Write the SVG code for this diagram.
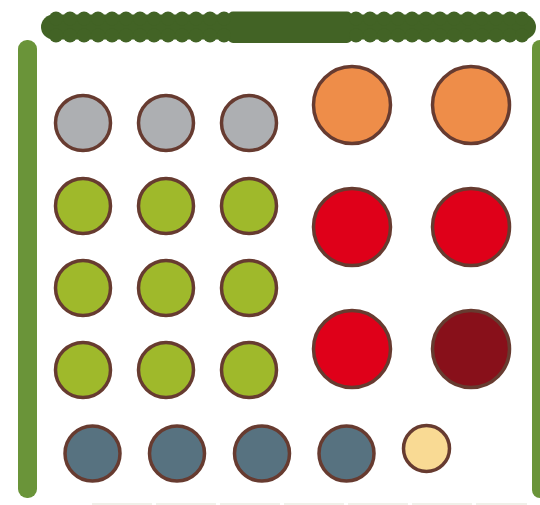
<svg xmlns="http://www.w3.org/2000/svg" width="540" height="505" viewBox="0 0 540 505">
<style>
.n{stroke:#673b30;stroke-width:3.5}
.g{fill:#adafb2}.l{fill:#9fb92b}.b{fill:#577280}.y{fill:#f9da94}.o{fill:#ee8d49}.r{fill:#df0019}.d{fill:#88101a}
.bump{fill:#426325}
</style>
<defs>
<g id="bp"><circle cy="18.5" r="7" class="bump"/><circle cy="35.5" r="7" class="bump"/></g>
</defs>
<g id="top-bar">
<rect x="41" y="14.5" width="495" height="25" rx="12.5" class="bump"/>
<rect x="228" y="11.5" width="124" height="31.5" rx="5" class="bump"/>
<use href="#bp" x="56"/><use href="#bp" x="70"/><use href="#bp" x="84"/><use href="#bp" x="98"/><use href="#bp" x="112"/><use href="#bp" x="126"/><use href="#bp" x="140"/><use href="#bp" x="154"/><use href="#bp" x="168"/><use href="#bp" x="182"/><use href="#bp" x="196"/><use href="#bp" x="210"/><use href="#bp" x="224"/>
<use href="#bp" x="356"/><use href="#bp" x="370"/><use href="#bp" x="384"/><use href="#bp" x="398"/><use href="#bp" x="412"/><use href="#bp" x="426"/><use href="#bp" x="440"/><use href="#bp" x="454"/><use href="#bp" x="468"/><use href="#bp" x="482"/><use href="#bp" x="496"/><use href="#bp" x="510"/><use href="#bp" x="522"/>
</g>
<g id="left-bar"><rect x="18" y="40" width="19" height="458" rx="9" fill="#6a9439"/></g>
<g id="right-bar"><rect x="532" y="40" width="20" height="458" rx="8" fill="#6a9439"/></g>
<g id="connectors"><line x1="92" y1="504" x2="527" y2="504" stroke="#ebebe2" stroke-width="1.5" stroke-dasharray="60 4"/></g>
<g id="grey-1"><circle cx="83" cy="123" r="27.5" class="n g"/></g>
<g id="grey-2"><circle cx="166" cy="123" r="27.5" class="n g"/></g>
<g id="grey-3"><circle cx="249" cy="123" r="27.5" class="n g"/></g>
<g id="green-1"><circle cx="83" cy="206" r="27.5" class="n l"/></g>
<g id="green-2"><circle cx="166" cy="206" r="27.5" class="n l"/></g>
<g id="green-3"><circle cx="249" cy="206" r="27.5" class="n l"/></g>
<g id="green-4"><circle cx="83" cy="288" r="27.5" class="n l"/></g>
<g id="green-5"><circle cx="166" cy="288" r="27.5" class="n l"/></g>
<g id="green-6"><circle cx="249" cy="288" r="27.5" class="n l"/></g>
<g id="green-7"><circle cx="83" cy="370" r="27.5" class="n l"/></g>
<g id="green-8"><circle cx="166" cy="370" r="27.5" class="n l"/></g>
<g id="green-9"><circle cx="249" cy="370" r="27.5" class="n l"/></g>
<g id="blue-1"><circle cx="92.5" cy="453.5" r="27.5" class="n b"/></g>
<g id="blue-2"><circle cx="177" cy="453.5" r="27.5" class="n b"/></g>
<g id="blue-3"><circle cx="262" cy="453.5" r="27.5" class="n b"/></g>
<g id="blue-4"><circle cx="346.5" cy="453.5" r="27.5" class="n b"/></g>
<g id="yellow-1"><circle cx="426.5" cy="448.5" r="23" class="n y"/></g>
<g id="orange-1"><circle cx="352" cy="105" r="38.5" class="n o"/></g>
<g id="orange-2"><circle cx="471" cy="105" r="38.5" class="n o"/></g>
<g id="red-1"><circle cx="352" cy="227" r="38.5" class="n r"/></g>
<g id="red-2"><circle cx="471" cy="227" r="38.5" class="n r"/></g>
<g id="red-3"><circle cx="352" cy="349" r="38.5" class="n r"/></g>
<g id="darkred-1"><circle cx="471" cy="349" r="38.5" class="n d"/></g>
</svg>
